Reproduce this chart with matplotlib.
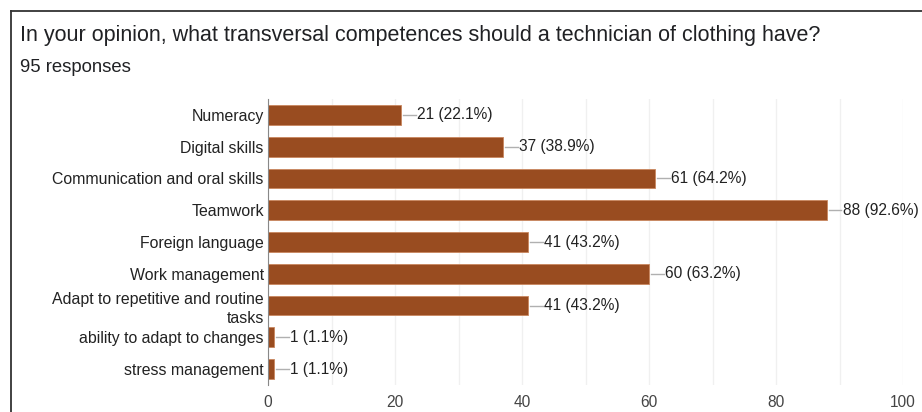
import numpy as np
import matplotlib.pyplot as plt
from matplotlib.lines import Line2D

plt.rcParams['font.family'] = ['Liberation Sans', 'DejaVu Sans']

# survey answers (95 responses)
total = 95
skills = ['Numeracy', 'Digital skills', 'Communication and oral skills', 'Teamwork',
          'Foreign language', 'Work management', 'Adapt to repetitive and routine\ntasks',
          'ability to adapt to changes', 'stress management']
counts = [21, 37, 61, 88, 41, 60, 41, 1, 1]
xticks = [0, 20, 40, 60, 80, 100]

bar_color = '#994c20'

fig = plt.figure(figsize=(9.22, 4.12), dpi=100)
ax = fig.add_axes([268/922, 1 - 385/412, 635/922, 286/412])

y = np.arange(len(skills))
ax.barh(y, counts, height=0.62, color=bar_color, edgecolor='#c9875f', linewidth=0.6, zorder=3)

# leader line + value label for each bar
for yi, c in zip(y, counts):
    ax.plot([c + 0.3, c + 2.3], [yi, yi], color='#b0b0b0', lw=1, zorder=2)
    ax.text(c + 2.5, yi, '%d (%.1f%%)' % (c, c / total * 100), va='center', ha='left',
            fontsize=11.2, color='#222222')

ax.set_xlim(0, 100)
ax.set_ylim(len(skills) - 0.5, -0.5)
ax.set_xticks(xticks)
ax.set_xticks(np.arange(10, 100, 20), minor=True)
ax.set_yticks(y)
ax.set_yticklabels(skills, fontsize=11.4, color='#222222', linespacing=1.3)
ax.tick_params(axis='x', length=0, labelsize=11.2, labelcolor='#444444', pad=7, which='both')
ax.tick_params(axis='y', length=0, pad=3)
ax.grid(axis='x', which='both', color='#f0f0f0', lw=1, zorder=0)
for s in ['top', 'right', 'bottom']:
    ax.spines[s].set_visible(False)
ax.spines['left'].set_color('#888888')
ax.spines['left'].set_zorder(4)

fig.text(20/922, 1 - 35/412, 'In your opinion, what transversal competences should a technician of clothing have?',
         fontsize=15.5, color='#202124', va='center', ha='left')
fig.text(20/922, 1 - 67/412, '95 responses', fontsize=13.3, color='#202124', va='center', ha='left')

# card border (top and left edges)
fig.add_artist(Line2D([11/922, 1], [1 - 11/412, 1 - 11/412], color='#333333', lw=1.3))
fig.add_artist(Line2D([11/922, 11/922], [0, 1 - 11/412], color='#333333', lw=1.3))

fig.savefig('out.png', dpi=100)
